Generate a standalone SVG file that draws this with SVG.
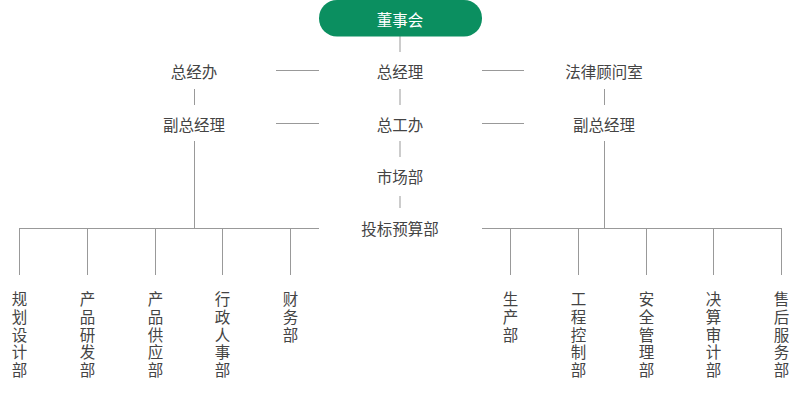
<svg xmlns="http://www.w3.org/2000/svg" width="800" height="405" viewBox="0 0 800 405">
<style>
text{font-family:"Noto Sans CJK SC","Noto Sans",sans-serif;font-size:15.5px;fill:#444;text-anchor:middle;dominant-baseline:central}
.w{fill:#fff}
.v{font-family:"Liberation Sans","Noto Sans CJK SC",sans-serif}
.c line{stroke:#999;stroke-width:1}
</style>
<rect width="800" height="405" fill="#fff"/>
<g class="c" id="connectors">
<line x1="400" y1="36" x2="400" y2="52"/>
<line x1="276" y1="70.5" x2="319" y2="70.5"/>
<line x1="482" y1="70.5" x2="524" y2="70.5"/>
<line x1="400" y1="89" x2="400" y2="105"/>
<line x1="194.5" y1="89" x2="194.5" y2="105"/>
<line x1="604.5" y1="89" x2="604.5" y2="105"/>
<line x1="276" y1="123.5" x2="319" y2="123.5"/>
<line x1="482" y1="123.5" x2="524" y2="123.5"/>
<line x1="400" y1="141" x2="400" y2="157"/>
<line x1="400" y1="196" x2="400" y2="208"/>
<line x1="194.5" y1="141" x2="194.5" y2="228.5"/>
<line x1="19" y1="228.5" x2="319" y2="228.5"/>
<line x1="19.5" y1="228" x2="19.5" y2="275"/>
<line x1="87.5" y1="228" x2="87.5" y2="275"/>
<line x1="155.5" y1="228" x2="155.5" y2="275"/>
<line x1="222.5" y1="228" x2="222.5" y2="275"/>
<line x1="290.5" y1="228" x2="290.5" y2="275"/>
<line x1="604.5" y1="141" x2="604.5" y2="228.5"/>
<line x1="482" y1="228.5" x2="782" y2="228.5"/>
<line x1="510.5" y1="228" x2="510.5" y2="275"/>
<line x1="578.5" y1="228" x2="578.5" y2="275"/>
<line x1="646.5" y1="228" x2="646.5" y2="275"/>
<line x1="713.5" y1="228" x2="713.5" y2="275"/>
<line x1="781.5" y1="228" x2="781.5" y2="275"/>
</g>
<g id="board"><rect x="319" y="0" width="163" height="36.5" rx="18" fill="#0b8f60"/><text class="w" x="400" y="19">董事会</text></g>
<g id="gm"><text x="400" y="71">总经理</text></g>
<g id="gmo"><text x="194" y="71">总经办</text></g>
<g id="legal"><text x="604" y="71">法律顾问室</text></g>
<g id="vgm1"><text x="194" y="124">副总经理</text></g>
<g id="ceo"><text x="400" y="124">总工办</text></g>
<g id="vgm2"><text x="604" y="124">副总经理</text></g>
<g id="market"><text x="400" y="176">市场部</text></g>
<g id="bid"><text x="400" y="228">投标预算部</text></g>
<g id="d1"><text class="v" x="19.5" y="299"><tspan x="19.5">规</tspan><tspan x="19.5" dy="17.8">划</tspan><tspan x="19.5" dy="17.8">设</tspan><tspan x="19.5" dy="17.8">计</tspan><tspan x="19.5" dy="17.8">部</tspan></text></g>
<g id="d2"><text class="v" x="87.5" y="299"><tspan x="87.5">产</tspan><tspan x="87.5" dy="17.8">品</tspan><tspan x="87.5" dy="17.8">研</tspan><tspan x="87.5" dy="17.8">发</tspan><tspan x="87.5" dy="17.8">部</tspan></text></g>
<g id="d3"><text class="v" x="155.5" y="299"><tspan x="155.5">产</tspan><tspan x="155.5" dy="17.8">品</tspan><tspan x="155.5" dy="17.8">供</tspan><tspan x="155.5" dy="17.8">应</tspan><tspan x="155.5" dy="17.8">部</tspan></text></g>
<g id="d4"><text class="v" x="222.5" y="299"><tspan x="222.5">行</tspan><tspan x="222.5" dy="17.8">政</tspan><tspan x="222.5" dy="17.8">人</tspan><tspan x="222.5" dy="17.8">事</tspan><tspan x="222.5" dy="17.8">部</tspan></text></g>
<g id="d5"><text class="v" x="290.5" y="299"><tspan x="290.5">财</tspan><tspan x="290.5" dy="17.8">务</tspan><tspan x="290.5" dy="17.8">部</tspan></text></g>
<g id="d6"><text class="v" x="510.5" y="299"><tspan x="510.5">生</tspan><tspan x="510.5" dy="17.8">产</tspan><tspan x="510.5" dy="17.8">部</tspan></text></g>
<g id="d7"><text class="v" x="578.5" y="299"><tspan x="578.5">工</tspan><tspan x="578.5" dy="17.8">程</tspan><tspan x="578.5" dy="17.8">控</tspan><tspan x="578.5" dy="17.8">制</tspan><tspan x="578.5" dy="17.8">部</tspan></text></g>
<g id="d8"><text class="v" x="646.5" y="299"><tspan x="646.5">安</tspan><tspan x="646.5" dy="17.8">全</tspan><tspan x="646.5" dy="17.8">管</tspan><tspan x="646.5" dy="17.8">理</tspan><tspan x="646.5" dy="17.8">部</tspan></text></g>
<g id="d9"><text class="v" x="713.5" y="299"><tspan x="713.5">决</tspan><tspan x="713.5" dy="17.8">算</tspan><tspan x="713.5" dy="17.8">审</tspan><tspan x="713.5" dy="17.8">计</tspan><tspan x="713.5" dy="17.8">部</tspan></text></g>
<g id="d10"><text class="v" x="781.5" y="299"><tspan x="781.5">售</tspan><tspan x="781.5" dy="17.8">后</tspan><tspan x="781.5" dy="17.8">服</tspan><tspan x="781.5" dy="17.8">务</tspan><tspan x="781.5" dy="17.8">部</tspan></text></g>
</svg>
